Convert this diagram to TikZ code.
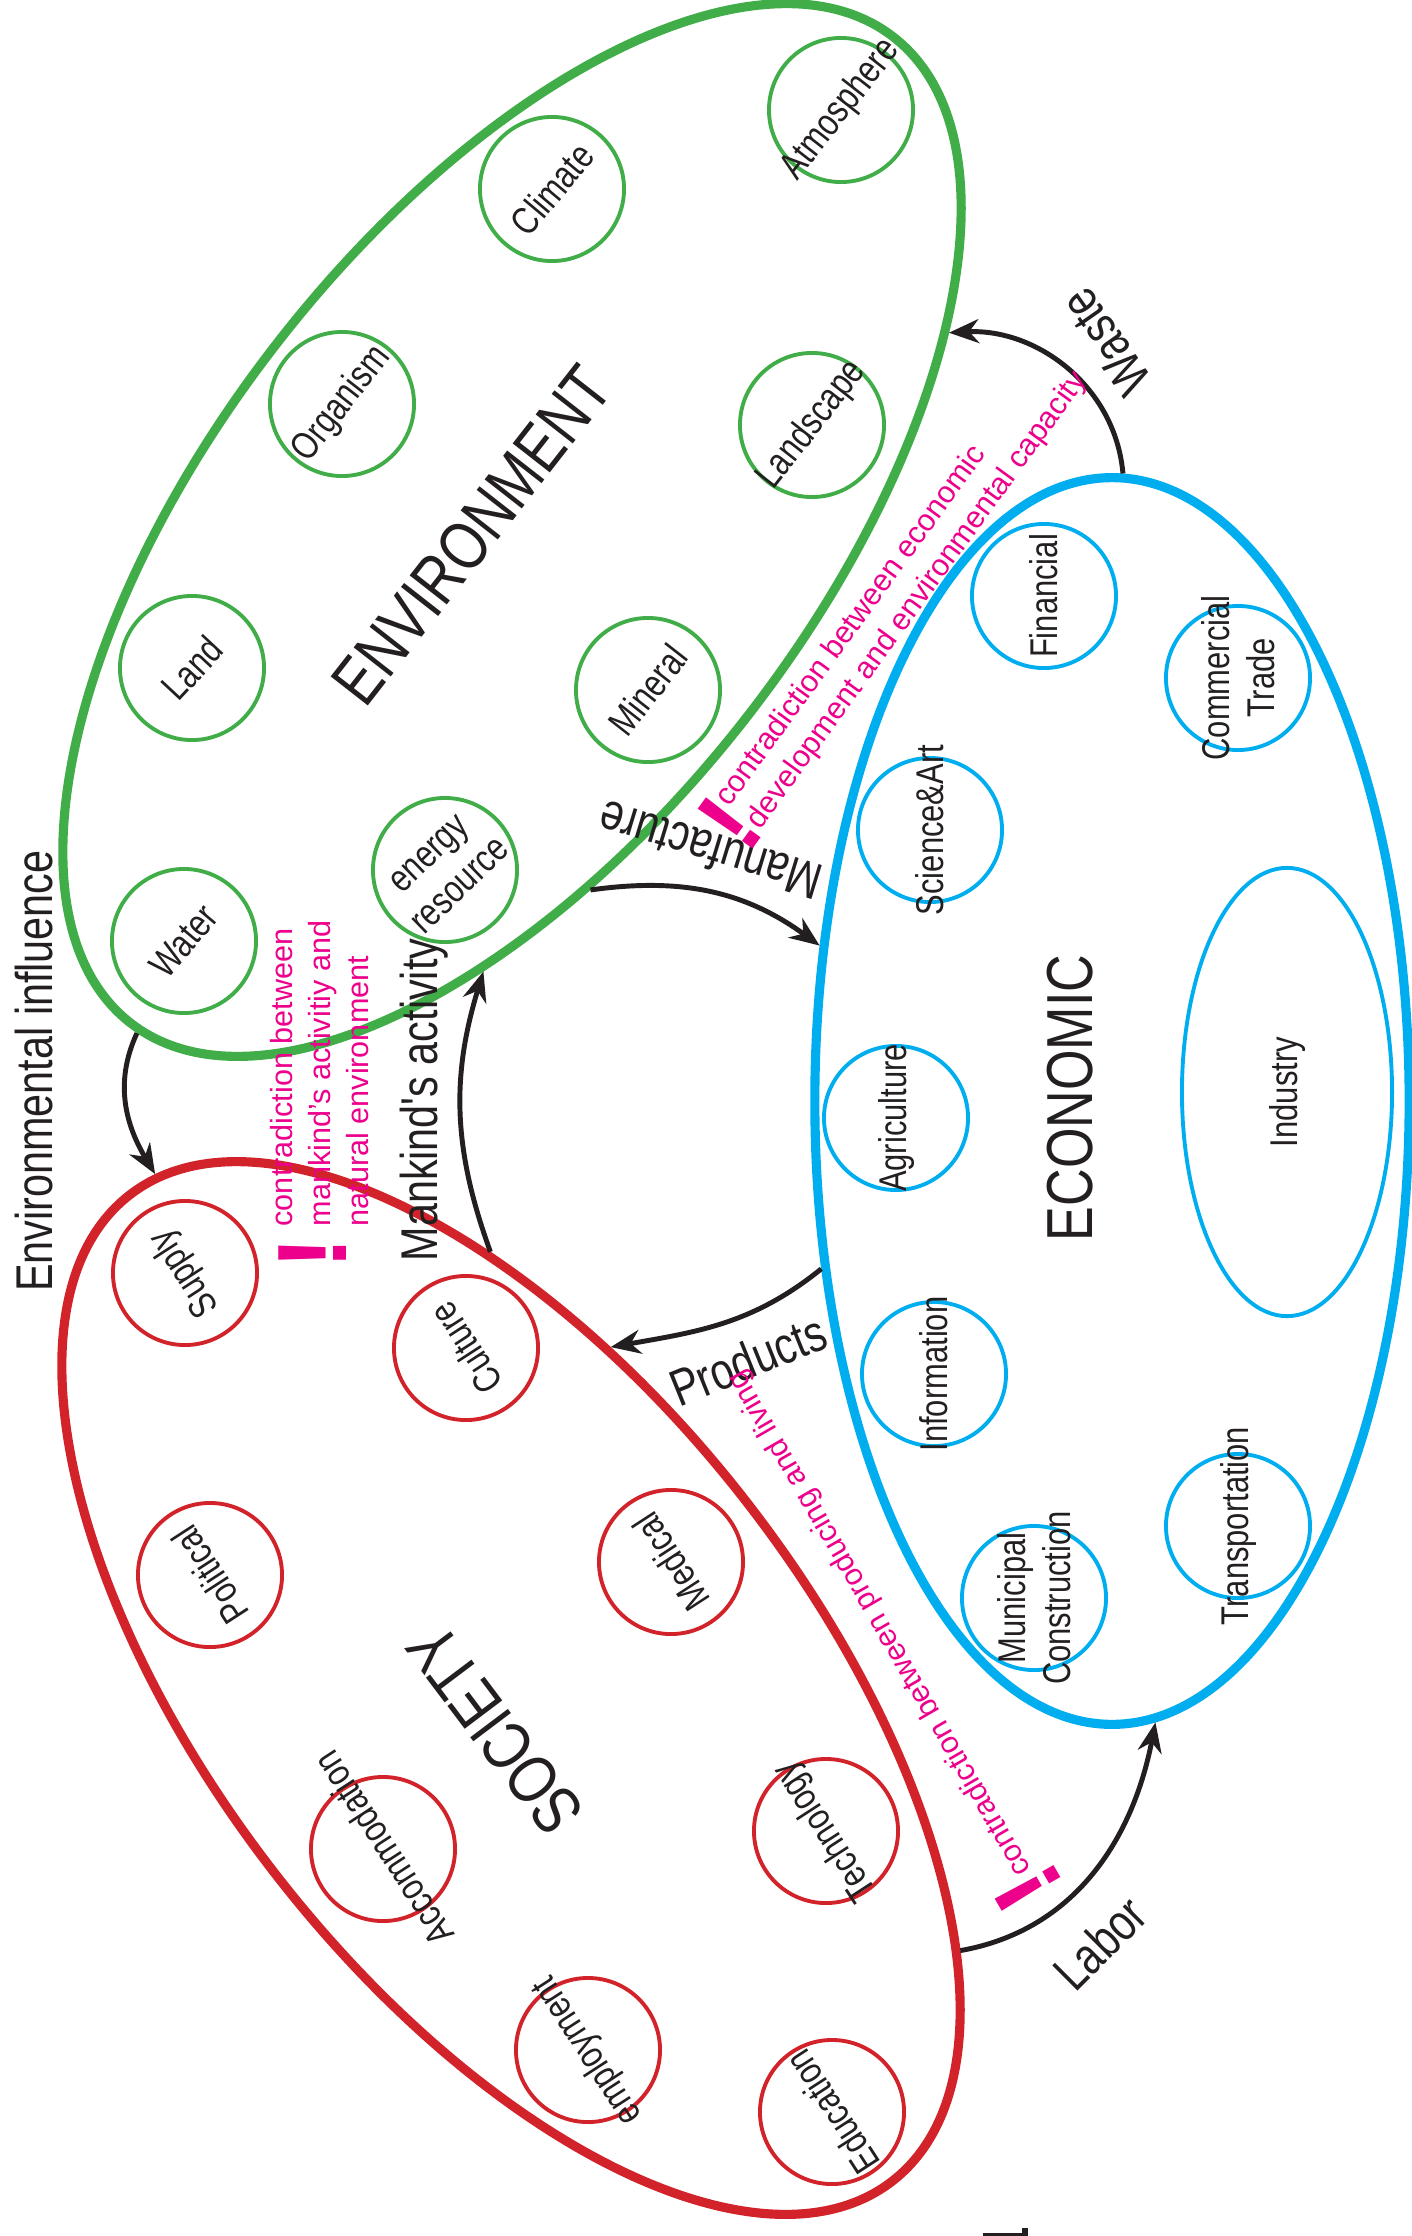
\documentclass[tikz,border=0pt]{standalone}
\usepackage{fontspec}
\setmainfont{Liberation Sans}
\newfontfamily\narrowfont{Liberation Sans}[FakeStretch=0.8]
\usetikzlibrary{shapes.geometric, arrows.meta}

\definecolor{envgreen}{RGB}{64,173,73}
\definecolor{socred}{RGB}{210,35,42}
\definecolor{ecoblue}{RGB}{0,174,239}
\definecolor{clashpink}{RGB}{236,0,140}
\definecolor{ink}{RGB}{35,31,32}

\begin{document}
\begin{tikzpicture}[x=0.01cm, y=0.01cm,
    bigring/.style={draw, ellipse, line width=2.6pt, minimum width=12.46cm,
      minimum height=6cm, inner sep=0pt},
    ringitem/.style={draw, circle, line width=1.1pt, minimum size=1.44cm, inner sep=0pt},
    itemtext/.style={text=ink, font=\narrowfont\fontsize{11}{12.8}\selectfont,
      align=center, inner sep=0pt},
    bigname/.style={text=ink, font=\narrowfont\fontsize{19.5}{22}\selectfont, inner sep=0pt},
    flowlabel/.style={text=ink, font=\narrowfont\fontsize{14.7}{17}\selectfont, inner sep=0pt},
    flow/.style={draw=ink, line width=1.4pt, -{Stealth[length=3mm, width=2.4mm]}},
    clash/.style={text=clashpink, font=\fontsize{8.7}{10.7}\selectfont, align=left, inner sep=0pt},
    bang/.style={text=clashpink, font=\fontsize{28}{28}\selectfont\bfseries, inner sep=0pt}]
  \useasboundingbox (0,0) rectangle (1412,-2236);

  % the three spheres
  \node[bigring, draw=envgreen, rotate=52.3] (env) at (512,-530) {};
  \node[bigring, draw=socred, rotate=-52.3] (soc) at (511,-1688) {};
  \node[bigring, draw=ecoblue, minimum width=5.94cm, minimum height=12.46cm] (eco) at (1112,-1101) {};
  \node[bigname, rotate=52] (env-t) at (472,-535) {ENVIRONMENT};
  \node[bigname, rotate=127] (soc-t) at (495,-1730) {SOCIETY};
  \node[bigname, rotate=90, font=\narrowfont\fontsize{18.5}{22}\selectfont] (eco-t) at (1070,-1098) {ECONOMIC};

  % elements
  \foreach \nm/\x/\y/\ang/\txt in {atmos/841/110/52/Atmosphere, climate/552/189/50/Climate,
      organism/342/404/52/Organism, landscape/812/425/52/Landscape, land/192/668/47/Land,
      mineral/648/690/52/Mineral, water/184/941/50/Water, energy/445/870/44/{energy\\resource}}
    {\node[ringitem, draw=envgreen] (\nm) at (\x,-\y) {};
     \node[itemtext, rotate=\ang] (\nm-t) at (\nm) {\txt};}
  \foreach \nm/\x/\y/\txt in {financial/1044/596/Financial, commerce/1238/678/{Commercial\\Trade},
      science/930/830/Science\&Art, agri/896/1118/Agriculture, info/934/1374/Information,
      municipal/1034/1598/{Municipal\\Construction}, transport/1238/1526/Transportation}
    {\node[ringitem, draw=ecoblue] (\nm) at (\x,-\y) {};
     \node[itemtext, rotate=90] (\nm-t) at (\nm) {\txt};}
  \node[draw=ecoblue, ellipse, line width=1.1pt, minimum width=2.1cm, minimum height=4.48cm,
    inner sep=0pt] (industry) at (1287,-1092) {};
  \node[itemtext, rotate=90] (industry-t) at (industry) {Industry};
  \foreach \nm/\x/\y/\txt in {supply/185/1273/Supply, culture/466/1348/Culture,
      political/210/1575/Political, medical/671/1562/Medical, accom/383/1849/Accommodation,
      tech/826/1831/Technology, employ/588/2050/employment, edu/832/2112/Education}
    {\node[ringitem, draw=socred] (\nm) at (\x,-\y) {};
     \node[itemtext, rotate=123] (\nm-t) at (\nm) {\txt};}

  % flows between the spheres
  \draw[flow] (env.181) to[out=245, in=121] (soc.177);
  \draw[flow] (soc.145) to[out=110, in=253] (env.214);
  \draw[flow] (env.230) to[out=8, in=144] (eco.152);
  \draw[flow] (eco.210) to[out=219, in=10] (soc.126);
  \draw[flow] (eco.89) to[out=95, in=3] (env.332);
  \draw[flow] (soc.22) to[out=10, in=259] (eco.274);
  \node[flowlabel, rotate=90, anchor=base] (influence) at (52,-1071) {Environmental influence};
  \node[flowlabel, rotate=90, anchor=base] (activity) at (437,-1100) {Mankind's activity};
  \node[flowlabel, rotate=163] (manufacture) at (710,-851) {Manufacture};
  \node[flowlabel, rotate=22] (products) at (748,-1360) {Products};
  \node[flowlabel, rotate=125] (waste) at (1106,-342) {Waste};
  \node[flowlabel, rotate=45] (labor) at (1100,-1943) {Labor};

  % contradictions
  \node[bang, rotate=90] (bang-me) at (313,-1253) {!};
  \node[clash, rotate=90, anchor=north west] (clash-me) at (270,-1227)
    {contradiction between\\mankind's activitiy and\\natural environment};
  \node[bang, rotate=54] (bang-ee) at (730,-823) {!};
  \node[clash, rotate=54, anchor=north west] (clash-ee) at (711,-795)
    {contradiction between economic\\development and environmental capacity};
  \node[bang, rotate=120] (bang-pl) at (1028,-1888) {!};
  \node[clash, rotate=120, anchor=base west] (clash-pl) at (1032,-1870)
    {contradiction between producing and living};

  \fill[ink] (983,-2233) rectangle (1028,-2236);
  \fill[ink] (1022,-2228) rectangle (1028,-2236);
\end{tikzpicture}
\end{document}
